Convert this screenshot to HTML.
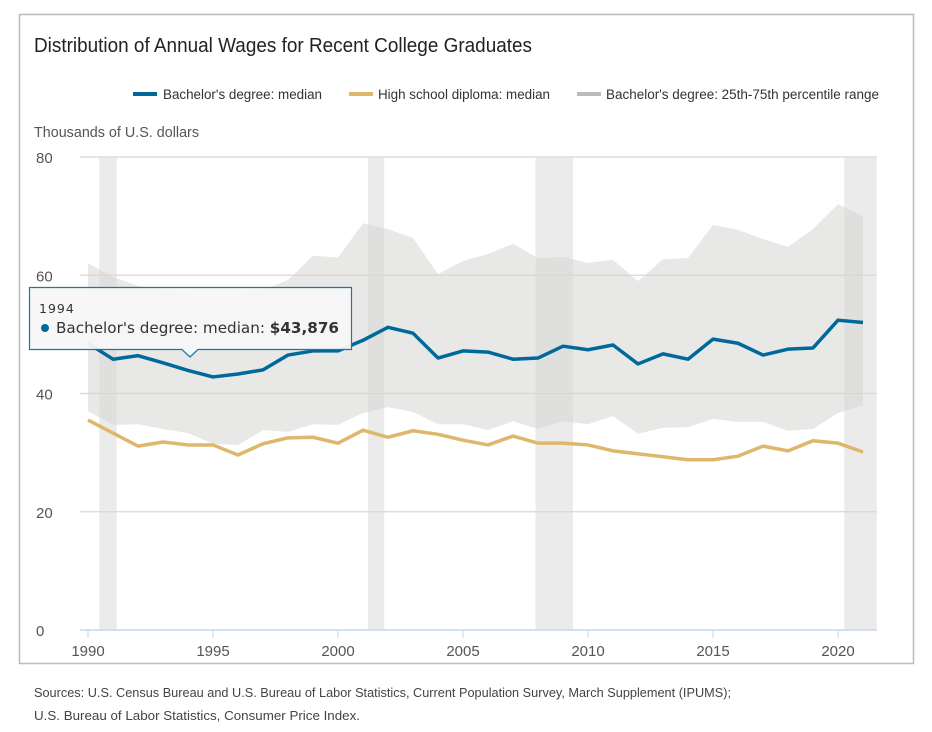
<!DOCTYPE html>
<html><head><meta charset="utf-8"><style>
html,body{margin:0;padding:0;background:#fff;}
svg{display:block;}
text{font-family:"Liberation Sans Narrow","Liberation Sans",sans-serif;}
</style></head><body>
<svg id="chart" width="932" height="732" viewBox="0 0 932 732">
<rect x="19.5" y="14.5" width="894" height="649" fill="#fff" stroke="#bbb" stroke-width="1.5"/>
<text x="34" y="52" font-size="20" fill="#222" textLength="498" lengthAdjust="spacingAndGlyphs">Distribution of Annual Wages for Recent College Graduates</text>
<g>
<g><rect x="133" y="92" width="24" height="4" fill="#00699b"/><text x="163" y="99" font-size="13.5" fill="#333" textLength="159" lengthAdjust="spacingAndGlyphs">Bachelor's degree: median</text></g>
<g><rect x="349" y="92" width="24" height="4" fill="#dfb76c"/><text x="378" y="99" font-size="13.5" fill="#333" textLength="172" lengthAdjust="spacingAndGlyphs">High school diploma: median</text></g>
<g><rect x="577" y="92" width="24" height="4" fill="#bbb"/><text x="606" y="99" font-size="13.5" fill="#333" textLength="273" lengthAdjust="spacingAndGlyphs">Bachelor's degree: 25th-75th percentile range</text></g>
</g>
<text x="34" y="137" font-size="15" fill="#555" textLength="165" lengthAdjust="spacingAndGlyphs">Thousands of U.S. dollars</text>
<g id="recessions"></g>
<g id="grid"></g>
<g id="series"></g>
<g id="axes"></g>
<g>
<path d="M29.5,287.5 H351.5 V349.5 H198 L190,357 L182,349.5 H29.5 Z" fill="#f7f7f7" fill-opacity="0.95" stroke="#1f74a8" stroke-width="1.2"/>
<text x="39" y="313" font-size="12.5" fill="#333" letter-spacing="1" style="font-family:'DejaVu Sans',sans-serif">1994</text>
<circle cx="45" cy="328" r="4" fill="#00699b"/>
<text x="56" y="333" font-size="15" fill="#333" style="font-family:'DejaVu Sans',sans-serif" textLength="283" lengthAdjust="spacingAndGlyphs">Bachelor's degree: median: <tspan font-weight="bold">$43,876</tspan></text>
</g>
<text x="34" y="697" font-size="13" fill="#444" textLength="697" lengthAdjust="spacingAndGlyphs">Sources: U.S. Census Bureau and U.S. Bureau of Labor Statistics, Current Population Survey, March Supplement (IPUMS);</text>
<text x="34" y="720" font-size="13" fill="#444" textLength="326" lengthAdjust="spacingAndGlyphs">U.S. Bureau of Labor Statistics, Consumer Price Index.</text>
</svg>
<script>
const years=[1990,1991,1992,1993,1994,1995,1996,1997,1998,1999,2000,2001,2002,2003,2004,2005,2006,2007,2008,2009,2010,2011,2012,2013,2014,2015,2016,2017,2018,2019,2020,2021];
const bachelorMedian=[48.5,45.8,46.4,45.2,43.9,42.8,43.3,44,46.5,47.2,47.2,49,51.2,50.2,46,47.2,47,45.8,46,48,47.4,48.2,45,46.7,45.8,49.2,48.5,46.5,47.5,47.7,52.4,52];
const highSchoolMedian=[35.5,33.3,31.1,31.8,31.3,31.3,29.6,31.5,32.5,32.6,31.6,33.8,32.6,33.7,33.1,32.1,31.3,32.8,31.6,31.6,31.3,30.3,29.8,29.3,28.8,28.8,29.4,31.1,30.3,32,31.6,30.1];
const bachelorP75=[62,59.7,58.2,57.5,56.7,55.8,56.7,57.5,59.2,63.3,63,68.8,67.8,66.3,60.2,62.4,63.6,65.3,62.9,63.1,62.1,62.6,59,62.7,62.9,68.5,67.7,66.1,64.8,67.8,72,70];
const bachelorP25=[37,34.7,34.8,34,33.3,31.5,31.3,33.8,33.5,34.8,34.7,36.7,37.7,36.9,34.8,34.8,33.8,35.3,34,35.3,34.8,36.2,33.2,34.2,34.3,35.7,35.2,35.2,33.7,34,36.7,38];
const recessionStarts=[1990.45,2001.2,2007.9,2020.25];
const recessionEnds=[1991.15,2001.85,2009.4,2021.55];
const yTicks=[0,20,40,60,80];
const xTicks=[1990,1995,2000,2005,2010,2015,2020];
const NS='http://www.w3.org/2000/svg';
const X0=80,X1=877,Y0=630,Y1=157;
const xs=yr=>88+(yr-1990)*25;
const ys=v=>Y0-(v/80)*(Y0-Y1);
function mk(tag,attrs,parent){const e=document.createElementNS(NS,tag);for(const k in attrs)e.setAttribute(k,attrs[k]);parent.appendChild(e);return e;}
const rec=document.getElementById('recessions'),grid=document.getElementById('grid'),ser=document.getElementById('series'),ax=document.getElementById('axes');
recessionStarts.forEach((s,i)=>{const r=mk('rect',{x:xs(s),y:Y1,width:Math.min(xs(recessionEnds[i]),X1)-xs(s),height:Y0-Y1,fill:'#e8e8e8','fill-opacity':0.85},rec);

});
yTicks.forEach(t=>{if(t>0){const l=mk('line',{x1:X0,x2:X1,y1:ys(t),y2:ys(t),stroke:'#d8d8d8','stroke-width':1.3},grid);

}
const tx=mk('text',{x:36,y:ys(t)+6,'font-size':15,fill:'#555'},ax);tx.textContent=t;

});
let d='M'+years.map((y,i)=>xs(y)+','+ys(bachelorP75[i])).join('L');
for(let i=years.length-1;i>=0;i--)d+='L'+xs(years[i])+','+ys(bachelorP25[i]);
const band=mk('path',{d:d+'Z',fill:'#d6d6d4','fill-opacity':0.55},ser);


const hs=mk('polyline',{points:years.map((y,i)=>xs(y)+','+ys(highSchoolMedian[i])).join(' '),fill:'none',stroke:'#dfb76c','stroke-width':3.5,'stroke-linejoin':'round'},ser);


const bl=mk('polyline',{points:years.map((y,i)=>xs(y)+','+ys(bachelorMedian[i])).join(' '),fill:'none',stroke:'#00699b','stroke-width':3.5,'stroke-linejoin':'round'},ser);


const axl=mk('line',{x1:X0,x2:X1,y1:Y0,y2:Y0,stroke:'#c6d6e6','stroke-width':1.5},ax);


xTicks.forEach(t=>{const tk=mk('line',{x1:xs(t),x2:xs(t),y1:Y0,y2:Y0+8,stroke:'#c6d6e6','stroke-width':1},ax);


const tx=mk('text',{x:xs(t),y:Y0+26,'font-size':15,fill:'#555','text-anchor':'middle'},ax);tx.textContent=t;

});
</script>
</body></html>
